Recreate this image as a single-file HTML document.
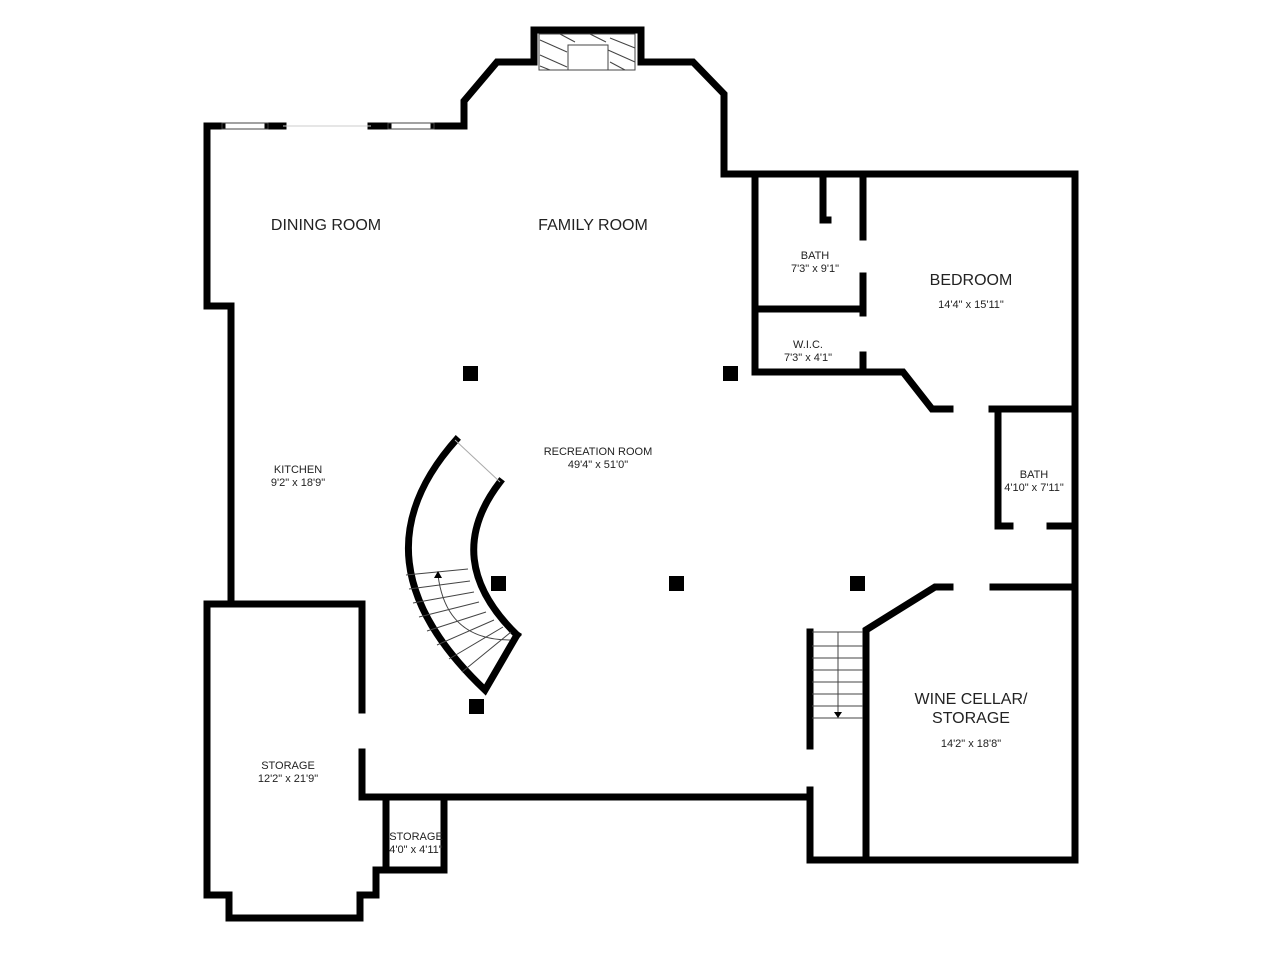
<!DOCTYPE html>
<html><head><meta charset="utf-8"><style>
html,body{margin:0;padding:0;background:#fff;}
svg{display:block;}
text{font-family:"Liberation Sans",sans-serif;fill:#222;text-anchor:middle;}
.b{font-size:16px;}
.s{font-size:11px;}
</style></head><body>
<svg width="1280" height="960" viewBox="0 0 1280 960" xmlns="http://www.w3.org/2000/svg">
<g fill="none" stroke="#000" stroke-width="7" stroke-linecap="square" stroke-linejoin="miter">
<path d="M222,126 H207 V306 H231 V601"/>
<path d="M268,126 H283"/>
<path d="M371,126 H388"/>
<path d="M434,126 H464 V101 L497,62 H534"/>
<path d="M534,62 V30 H641 V62 H693 L724,94 V174 H1075 V860 H810 V797 H362 V752"/>
<path d="M362,710 V604 H207 V895 H229 V918 H360 V895 H376 V870 H386"/>
<path d="M386,797 V870 H444 V797"/>
<path d="M755,174 V372 H903 L932,409 H950"/>
<path d="M992,409 H1075"/>
<path d="M755,309 H863"/>
<path d="M863,174 V237"/>
<path d="M863,276 V313"/>
<path d="M863,355 V372"/>
<path d="M823,174 V220 H828"/>
<path d="M998,409 V526 H1010"/>
<path d="M1050,526 H1075"/>
<path d="M866,858 V630 L935,587 H950"/>
<path d="M993,587 H1075"/>
<path d="M810,797 V790"/>
<path d="M810,746 V632"/>
<path d="M456,440 Q348,560 485,690 L517,635"/>
<path d="M500,482 Q440,560 517,635"/>
</g>
<g stroke="#444" stroke-width="1" fill="none">
<rect x="539" y="34" width="96" height="36"/>
<rect x="568" y="45" width="40" height="25" fill="#fff"/>
<path d="M540,40 L567,52 M540,55 L567,67 M560,34 L575,42 M590,34 L606,42 M610,38 L635,48 M608,50 L635,62 M610,62 L625,70 M540,66 L550,70"/>
<rect x="222" y="123" width="46" height="6"/>
<rect x="388" y="123" width="46" height="6"/>
<path d="M283,126 H371" stroke="#ccc"/>
<path d="M455,440 L500,482" stroke="#aaa"/>
<path d="M406,575 L468,569 M409,589 L470,581 M413,603 L474,592 M419,617 L479,602 M427,631 L486,612 M437,645 L494,620 M449,659 L503,627 M462,672 L511,632 M438,575 Q446,640 510,640"/>
<path d="M812,632 H863 M812,646 H863 M812,658 H863 M812,670 H863 M812,682 H863 M812,694 H863 M812,706 H863 M812,718 H863 M838,632 V712"/>
</g>
<path d="M434,578 L438,571 L442,578 Z M834,712 L842,712 L838,718 Z" fill="#000"/>
<g fill="#000">
<rect x="463" y="366" width="15" height="15"/>
<rect x="723" y="366" width="15" height="15"/>
<rect x="491" y="576" width="15" height="15"/>
<rect x="669" y="576" width="15" height="15"/>
<rect x="850" y="576" width="15" height="15"/>
<rect x="469" y="699" width="15" height="15"/>
</g>
<text class="b" x="326" y="230">DINING ROOM</text>
<text class="b" x="593" y="230">FAMILY ROOM</text>
<text class="b" x="971" y="285">BEDROOM</text>
<text class="s" x="971" y="308">14'4" x 15'11"</text>
<text class="s" x="815" y="259">BATH</text>
<text class="s" x="815" y="272">7'3" x 9'1"</text>
<text class="s" x="808" y="348">W.I.C.</text>
<text class="s" x="808" y="361">7'3" x 4'1"</text>
<text class="s" x="598" y="455">RECREATION ROOM</text>
<text class="s" x="598" y="468">49'4" x 51'0"</text>
<text class="s" x="298" y="473">KITCHEN</text>
<text class="s" x="298" y="486">9'2" x 18'9"</text>
<text class="s" x="1034" y="478">BATH</text>
<text class="s" x="1034" y="491">4'10" x 7'11"</text>
<text class="b" x="971" y="704">WINE CELLAR/</text>
<text class="b" x="971" y="723">STORAGE</text>
<text class="s" x="971" y="747">14'2" x 18'8"</text>
<text class="s" x="288" y="769">STORAGE</text>
<text class="s" x="288" y="782">12'2" x 21'9"</text>
<text class="s" x="416" y="840">STORAGE</text>
<text class="s" x="416" y="853">4'0" x 4'11"</text>
</svg>
</body></html>
